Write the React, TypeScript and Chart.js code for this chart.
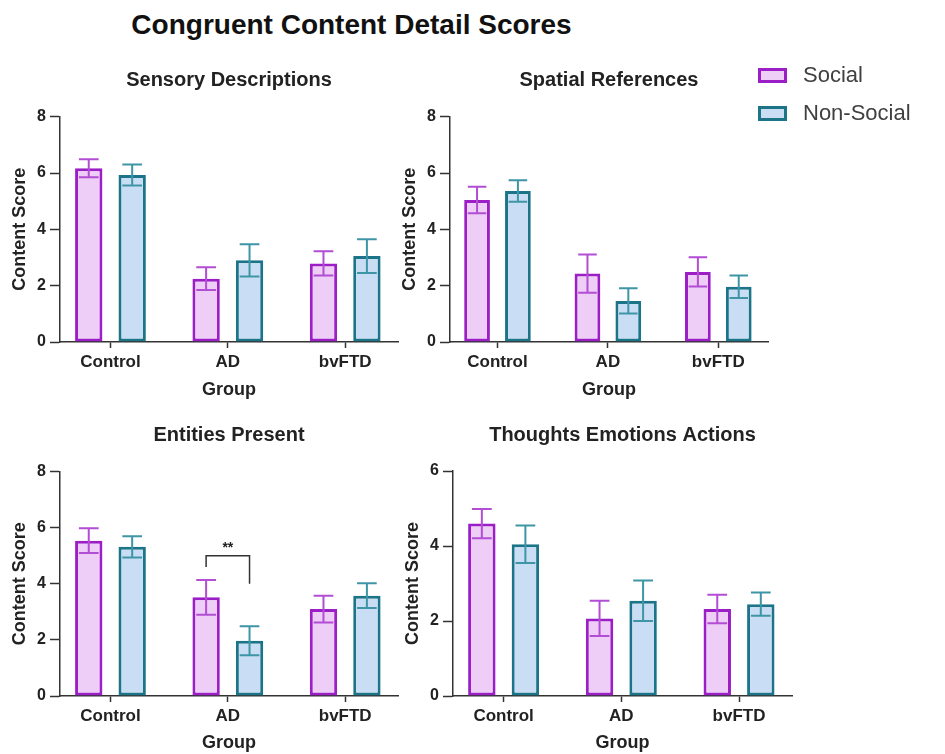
import React, { useEffect, useRef } from 'react';
import { Chart, registerables } from 'chart.js';

Chart.register(...registerables);

// Category labels and series names
const groups = ['Control', 'AD', 'bvFTD'];
const seriesNames = ['Social', 'Non-Social'];

// Sensory Descriptions (mean, SEM)
const sensorySocial = [6.17, 2.25, 2.79];
const sensorySocialErr = [0.32, 0.4, 0.43];
const sensoryNonSocial = [5.93, 2.9, 3.05];
const sensoryNonSocialErr = [0.37, 0.57, 0.6];

// Spatial References
const spatialSocial = [5.04, 2.43, 2.49];
const spatialSocialErr = [0.47, 0.68, 0.52];
const spatialNonSocial = [5.36, 1.46, 1.96];
const spatialNonSocialErr = [0.38, 0.45, 0.4];

// Entities Present
const entitiesSocial = [5.54, 3.52, 3.1];
const entitiesSocialErr = [0.44, 0.62, 0.48];
const entitiesNonSocial = [5.32, 1.97, 3.58];
const entitiesNonSocialErr = [0.38, 0.52, 0.44];

// Thoughts Emotions Actions
const thoughtsSocial = [4.6, 2.07, 2.32];
const thoughtsSocialErr = [0.39, 0.47, 0.38];
const thoughtsNonSocial = [4.05, 2.54, 2.45];
const thoughtsNonSocialErr = [0.5, 0.54, 0.31];

// Y-axis ranges
const yMaxEight = 8;
const yMaxSix = 6;

// Significance bracket on the AD group of "Entities Present"
const bracketGroup = 1;
const bracketTop = 5.0;
const bracketLegs = [4.6, 4.0];
const bracketLabel = '**';

const FONT = '"Liberation Sans", Arial, Helvetica, sans-serif';
const TEXT = '#222';
const AXIS = '#333';

const socialFill = '#EECDF6';
const socialEdge = '#9B1EC6';
const socialErrColor = '#B24ED3';
const nonSocialFill = '#C9DEF4';
const nonSocialEdge = '#1B7488';
const nonSocialErrColor = '#3E95A6';

const errorBarPlugin = {
  id: 'errorBars',
  afterDatasetsDraw(chart: any) {
    const { ctx } = chart;
    const yScale = chart.scales.y;
    chart.data.datasets.forEach((ds: any, di: number) => {
      const meta = chart.getDatasetMeta(di);
      ctx.save();
      ctx.strokeStyle = ds.errorColor;
      ctx.lineWidth = 2;
      meta.data.forEach((bar: any, i: number) => {
        const v = ds.data[i].y;
        const e = ds.errors[i];
        const yTop = yScale.getPixelForValue(v + e);
        const yBot = yScale.getPixelForValue(v - e);
        const half = bar.width * 0.36;
        ctx.beginPath();
        ctx.moveTo(bar.x, yTop);
        ctx.lineTo(bar.x, yBot);
        ctx.moveTo(bar.x - half, yTop);
        ctx.lineTo(bar.x + half, yTop);
        ctx.moveTo(bar.x - half, yBot);
        ctx.lineTo(bar.x + half, yBot);
        ctx.stroke();
      });
      ctx.restore();
    });
  },
};

const bracketPlugin = {
  id: 'sigBracket',
  afterDatasetsDraw(chart: any, _args: any, opts: any) {
    if (!opts || !opts.show) return;
    const { ctx } = chart;
    const yScale = chart.scales.y;
    const a = chart.getDatasetMeta(0).data[opts.group];
    const b = chart.getDatasetMeta(1).data[opts.group];
    const yT = yScale.getPixelForValue(opts.top);
    const yL = yScale.getPixelForValue(opts.legs[0]);
    const yR = yScale.getPixelForValue(opts.legs[1]);
    ctx.save();
    ctx.strokeStyle = AXIS;
    ctx.lineWidth = 1.5;
    ctx.beginPath();
    ctx.moveTo(a.x, yL);
    ctx.lineTo(a.x, yT);
    ctx.lineTo(b.x, yT);
    ctx.lineTo(b.x, yR);
    ctx.stroke();
    ctx.fillStyle = TEXT;
    ctx.font = `bold 14px ${FONT}`;
    ctx.textAlign = 'center';
    ctx.textBaseline = 'bottom';
    ctx.fillText(opts.label, (a.x + b.x) / 2, yT - 1);
    ctx.restore();
  },
};

type PanelSpec = {
  title: string;
  social: number[];
  socialErr: number[];
  nonSocial: number[];
  nonSocialErr: number[];
  yMax: number;
  left: number;
  top: number;
  w: number;
  h: number;
  titleTop: number;
  titleBottom: number;
  xHeight: number;
  groupPad: number;
  padRight: number;
  bracket?: boolean;
};

const panels: PanelSpec[] = [
  {
    title: 'Sensory Descriptions',
    social: sensorySocial, socialErr: sensorySocialErr,
    nonSocial: sensoryNonSocial, nonSocialErr: sensoryNonSocialErr,
    yMax: yMaxEight,
    left: 0, top: 60, w: 410, h: 344, titleTop: 8, titleBottom: 24.7, xHeight: 62, groupPad: 3, padRight: 12,
  },
  {
    title: 'Spatial References',
    social: spatialSocial, socialErr: spatialSocialErr,
    nonSocial: spatialNonSocial, nonSocialErr: spatialNonSocialErr,
    yMax: yMaxEight,
    left: 390, top: 60, w: 390, h: 344, titleTop: 8, titleBottom: 24.7, xHeight: 62, groupPad: 3, padRight: 12,
  },
  {
    title: 'Entities Present',
    social: entitiesSocial, socialErr: entitiesSocialErr,
    nonSocial: entitiesNonSocial, nonSocialErr: entitiesNonSocialErr,
    yMax: yMaxEight,
    left: 0, top: 414, w: 410, h: 340, titleTop: 9, titleBottom: 24.7, xHeight: 58, groupPad: 0, padRight: 12,
    bracket: true,
  },
  {
    title: 'Thoughts Emotions Actions',
    social: thoughtsSocial, socialErr: thoughtsSocialErr,
    nonSocial: thoughtsNonSocial, nonSocialErr: thoughtsNonSocialErr,
    yMax: yMaxSix,
    left: 393, top: 414, w: 410, h: 340, titleTop: 9, titleBottom: 24, xHeight: 58, groupPad: 0, padRight: 11,
  },
];

function Panel({ spec }: { spec: PanelSpec }) {
  const ref = useRef<HTMLCanvasElement>(null);

  useEffect(() => {
    const toPoints = (vals: number[]) => vals.map((y, i) => ({ x: i, y }));
    const chart = new Chart(ref.current as HTMLCanvasElement, {
      type: 'bar',
      data: {
        datasets: [
          {
            label: seriesNames[0],
            data: toPoints(spec.social),
            backgroundColor: socialFill,
            borderColor: socialEdge,
            borderWidth: 3,
            borderSkipped: false,
            errors: spec.socialErr,
            errorColor: socialErrColor,
          } as any,
          {
            label: seriesNames[1],
            data: toPoints(spec.nonSocial),
            backgroundColor: nonSocialFill,
            borderColor: nonSocialEdge,
            borderWidth: 3,
            borderSkipped: false,
            errors: spec.nonSocialErr,
            errorColor: nonSocialErrColor,
          } as any,
        ],
      },
      options: {
        animation: false,
        responsive: false,
        devicePixelRatio: 1,
        categoryPercentage: 0.74,
        barPercentage: 0.63,
        layout: { padding: { left: 0, top: 0, right: spec.padRight, bottom: 0 } },
        plugins: {
          legend: { display: false },
          tooltip: { enabled: false },
          title: {
            display: true,
            text: spec.title,
            fullSize: false,
            color: TEXT,
            font: { family: FONT, size: 20, weight: 'bold', lineHeight: 1.2 },
            padding: { top: spec.titleTop, bottom: spec.titleBottom },
          },
          sigBracket: spec.bracket
            ? { show: true, group: bracketGroup, top: bracketTop, legs: bracketLegs, label: bracketLabel }
            : { show: false },
        } as any,
        scales: {
          x: {
            type: 'linear',
            min: -0.43,
            max: 2.45,
            offset: false,
            afterBuildTicks: (axis: any) => {
              axis.ticks = groups.map((_, i) => ({ value: i }));
            },
            afterFit: (axis: any) => {
              axis.height = spec.xHeight;
            },
            ticks: {
              autoSkip: false,
              maxRotation: 0,
              padding: 4,
              color: TEXT,
              font: { family: FONT, size: 17, weight: 'bold' },
              callback: (v: any) => groups[Math.round(Number(v))] ?? '',
            },
            grid: {
              display: true,
              offset: false,
              drawOnChartArea: false,
              drawTicks: true,
              tickLength: 6,
              tickColor: AXIS,
              tickWidth: 1.5,
            },
            border: { display: true, color: AXIS, width: 1.5 },
            title: {
              display: true,
              text: 'Group',
              color: TEXT,
              font: { family: FONT, size: 18, weight: 'bold', lineHeight: 1.2 },
              padding: { top: 0, bottom: spec.groupPad },
            },
          },
          y: {
            min: 0,
            max: spec.yMax,
            afterFit: (axis: any) => {
              axis.width = 60;
            },
            ticks: {
              stepSize: 2,
              padding: 4,
              color: TEXT,
              font: { family: FONT, size: 16, weight: 'bold' },
            },
            grid: {
              display: true,
              drawOnChartArea: false,
              drawTicks: true,
              tickLength: 10,
              tickColor: AXIS,
              tickWidth: 1.5,
            },
            border: { display: true, color: AXIS, width: 1.5 },
            title: {
              display: true,
              text: 'Content Score',
              color: TEXT,
              font: { family: FONT, size: 18, weight: 'bold', lineHeight: 1.2 },
              padding: { top: 9, bottom: 0 },
            },
          },
        },
      } as any,
      plugins: [errorBarPlugin, bracketPlugin],
    });
    return () => chart.destroy();
  }, [spec]);

  return (
    <canvas
      ref={ref}
      width={spec.w}
      height={spec.h}
      style={{ position: 'absolute', left: spec.left, top: spec.top, width: spec.w, height: spec.h }}
    />
  );
}

function LegendItem({ label, fill, edge, top }: { label: string; fill: string; edge: string; top: number }) {
  return (
    <>
      <div
        style={{
          position: 'absolute',
          left: 758,
          top: top + 6,
          width: 29,
          height: 15,
          boxSizing: 'border-box',
          border: `3px solid ${edge}`,
          background: fill,
        }}
      />
      <div
        style={{
          position: 'absolute',
          left: 803,
          top: top,
          height: 26,
          lineHeight: '26px',
          fontFamily: FONT,
          fontSize: 22,
          color: '#404040',
          whiteSpace: 'nowrap',
        }}
      >
        {label}
      </div>
    </>
  );
}

export default function App() {
  return (
    <div
      style={{
        position: 'absolute',
        left: 0,
        top: 0,
        width: 945,
        height: 754,
        overflow: 'hidden',
        background: '#fff',
      }}
    >
      <div
        style={{
          position: 'absolute',
          left: 0,
          top: 8,
          width: 703,
          textAlign: 'center',
          fontFamily: FONT,
          fontWeight: 'bold',
          fontSize: 28,
          lineHeight: '34px',
          color: '#111',
        }}
      >
        Congruent Content Detail Scores
      </div>
      {panels.map((p) => (
        <Panel key={p.title} spec={p} />
      ))}
      <LegendItem label={seriesNames[0]} fill={socialFill} edge={socialEdge} top={62} />
      <LegendItem label={seriesNames[1]} fill={nonSocialFill} edge={nonSocialEdge} top={100} />
    </div>
  );
}
